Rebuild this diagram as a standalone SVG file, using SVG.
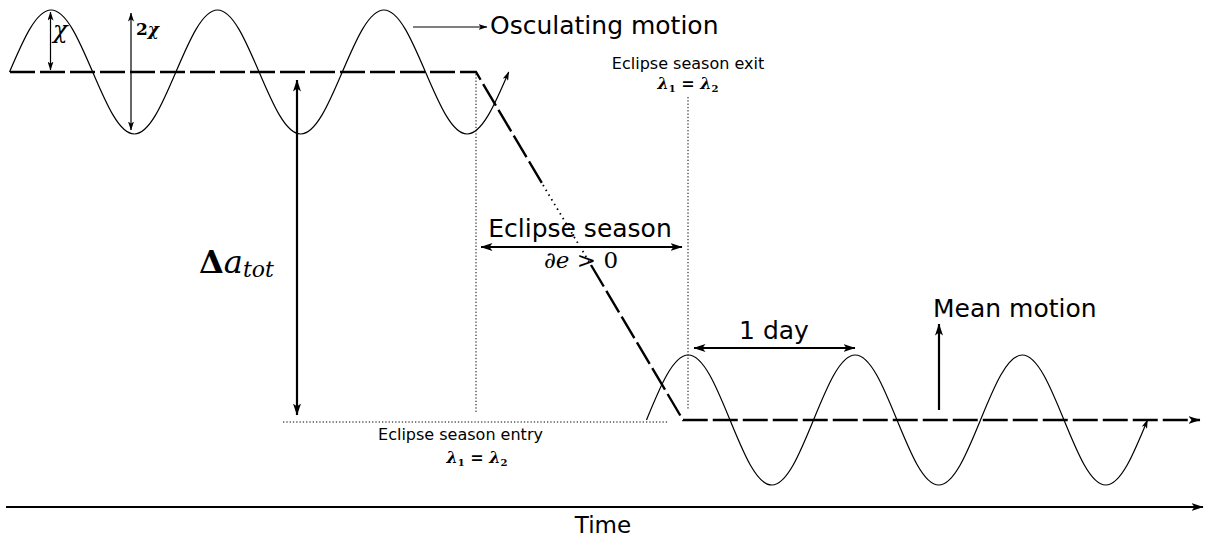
<svg xmlns="http://www.w3.org/2000/svg" width="1205" height="540" viewBox="0 0 1205 540">
<style>
.wave{fill:none;stroke:#000;stroke-width:1.2}
.dash{fill:none;stroke:#000;stroke-width:2.4;stroke-dasharray:25 5}
.dot{fill:none;stroke:#000;stroke-width:1;stroke-dasharray:1.3 2}
.thick{fill:none;stroke:#000;stroke-width:2.2}
.thin{fill:none;stroke:#000;stroke-width:1.2}
.lbl{font-family:"DejaVu Sans",sans-serif;fill:#000}
.math{font-family:"DejaVu Serif","Liberation Serif",serif;fill:#000}
.lam{font-family:"DejaVu Serif","Liberation Serif",serif;fill:#000;font-weight:bold;font-size:16px}
.sub{font-size:10px;font-weight:bold;font-style:normal}
</style>
<defs>
<marker id="big" viewBox="0 0 12 8" refX="11.5" refY="4" markerWidth="12" markerHeight="8" markerUnits="userSpaceOnUse" orient="auto-start-reverse">
<path d="M0,0 L12,4 L0,8 L3,4 z" fill="#000"/>
</marker>
<marker id="sm" viewBox="0 0 9 6" refX="8.5" refY="3" markerWidth="9" markerHeight="6" markerUnits="userSpaceOnUse" orient="auto-start-reverse">
<path d="M0,0 L9,3 L0,6 L2.2,3 z" fill="#000"/>
</marker>
</defs>

<g id="connectors">
<path class="dot" d="M476,74 V412"/>
<path class="dot" d="M688,97 V410"/>
<path class="dot" d="M283,422 H668"/>
<path class="dash" d="M10,72 H476 L543,185"/>
<path fill="none" stroke="#000" stroke-width="1.8" stroke-dasharray="1.5 4" d="M543,185 L591,265"/>
<path class="dash" d="M591,265 L683,420 H1200" marker-end="url(#big)"/>
<path class="wave" marker-end="url(#sm)" d="M9.5,72
c13.56,-31.76 26.54,-62 41.6,-62 c15.06,0 28.04,30.24 41.6,62 c13.56,31.76 26.54,62 41.6,62 c15.06,0 28.04,-30.24 41.6,-62
c13.56,-31.76 26.54,-62 41.6,-62 c15.06,0 28.04,30.24 41.6,62 c13.56,31.76 26.54,62 41.6,62 c15.06,0 28.04,-30.24 41.6,-62
c13.56,-31.76 26.54,-62 41.6,-62 c15.06,0 28.04,30.24 41.6,62 c13.56,31.76 26.54,62 41.6,62 c15.06,0 28.04,-30.24 41.6,-62"/>
<path class="wave" marker-end="url(#sm)" d="M646.5,420
c13.61,-33.3 26.64,-65 41.75,-65 c15.11,0 28.14,31.7 41.75,65 c13.61,33.3 26.64,65 41.75,65 c15.11,0 28.14,-31.7 41.75,-65
c13.61,-33.3 26.64,-65 41.75,-65 c15.11,0 28.14,31.7 41.75,65 c13.61,33.3 26.64,65 41.75,65 c15.11,0 28.14,-31.7 41.75,-65
c13.61,-33.3 26.64,-65 41.75,-65 c15.11,0 28.14,31.7 41.75,65 c13.61,33.3 26.64,65 41.75,65 c15.11,0 28.14,-31.7 41.75,-65"/>
<path class="thin" d="M50.5,12 V70" marker-start="url(#sm)" marker-end="url(#sm)"/>
<path class="thin" d="M131,13 V130" marker-start="url(#sm)" marker-end="url(#sm)"/>
<path class="thin" stroke-width="1.6" d="M413,27 H487" marker-end="url(#sm)"/>
<path class="thick" d="M297,80 V415" marker-start="url(#big)" marker-end="url(#big)"/>
<path class="thick" d="M481,247 H682" marker-start="url(#big)" marker-end="url(#big)"/>
<path class="thick" d="M694,348 H855" marker-start="url(#big)" marker-end="url(#big)"/>
<path class="thick" stroke-width="1.8" d="M939,410 V324" marker-end="url(#big)"/>
<path class="thick" d="M6,507 H1203" marker-end="url(#big)"/>
</g>

<g id="osculating-label">
<text class="lbl" x="490" y="34" font-size="25">Osculating motion</text>
</g>
<g id="chi-labels">
<text class="math" x="53" y="38" font-size="24" font-style="italic">χ</text>
<text class="math" x="136" y="35" font-size="17" font-weight="bold"><tspan>2</tspan><tspan font-style="italic">χ</tspan></text>
</g>
<g id="exit-label">
<text class="lbl" x="688" y="69" font-size="16" text-anchor="middle">Eclipse season exit</text>
<text class="lam" x="688" y="89" text-anchor="middle"><tspan font-style="italic">λ</tspan><tspan class="sub" dy="3">1</tspan><tspan dy="-3"> = </tspan><tspan font-style="italic">λ</tspan><tspan class="sub" dy="3">2</tspan></text>
</g>
<g id="delta-label">
<text class="math" x="199" y="273" font-size="32" font-weight="bold">Δ<tspan font-style="italic" font-weight="normal">a</tspan><tspan font-style="italic" font-weight="normal" font-size="22" dy="4">tot</tspan></text>
</g>
<g id="eclipse-season">
<text class="lbl" x="580" y="237" font-size="25" text-anchor="middle">Eclipse season</text>
<text class="math" x="581" y="268" font-size="23" text-anchor="middle"><tspan font-style="italic">∂e</tspan> &gt; 0</text>
</g>
<g id="entry-label">
<text class="lbl" x="460.5" y="440" font-size="16" text-anchor="middle">Eclipse season entry</text>
<text class="lam" x="477" y="463" text-anchor="middle"><tspan font-style="italic">λ</tspan><tspan class="sub" dy="3">1</tspan><tspan dy="-3"> = </tspan><tspan font-style="italic">λ</tspan><tspan class="sub" dy="3">2</tspan></text>
</g>
<g id="day-label">
<text class="lbl" x="774" y="339" font-size="25" text-anchor="middle">1 day</text>
</g>
<g id="mean-label">
<text class="lbl" x="933" y="317" font-size="25">Mean motion</text>
</g>
<g id="time-label">
<text class="lbl" x="603" y="533" font-size="23" text-anchor="middle">Time</text>
</g>
</svg>
